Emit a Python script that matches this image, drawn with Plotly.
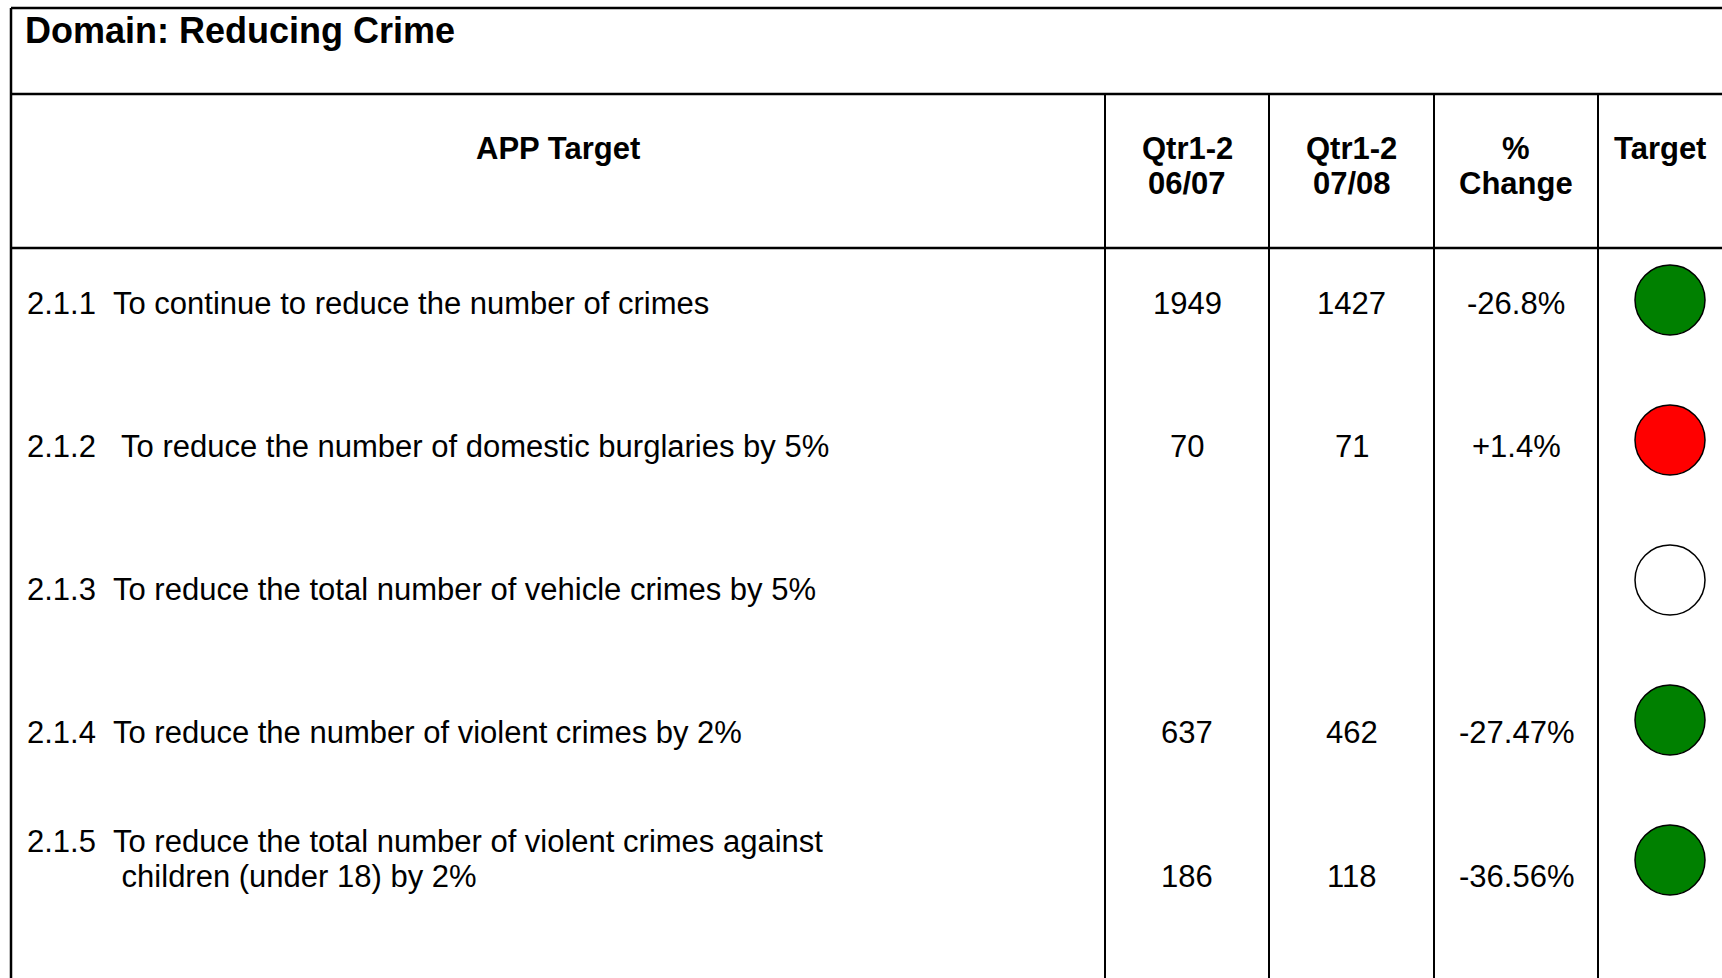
import plotly.graph_objects as go

# table content
title = "Domain: Reducing Crime"
headers = ["APP Target", "Qtr1-2<br>06/07", "Qtr1-2<br>07/08", "%<br>Change", "Target"]
codes = ["2.1.1", "2.1.2", "2.1.3", "2.1.4", "2.1.5"]
targets = [
    "To continue to reduce the number of crimes",
    " To reduce the number of domestic burglaries by 5%",
    "To reduce the total number of vehicle crimes by 5%",
    "To reduce the number of violent crimes by 2%",
    "To reduce the total number of violent crimes against<br> children (under 18) by 2%",
]
qtr_0607 = [1949, 70, None, 637, 186]
qtr_0708 = [1427, 71, None, 462, 118]
pct_change = ["-26.8%", "+1.4%", "", "-27.47%", "-36.56%"]
status = ["green", "red", "none", "green", "green"]

status_colors = {"green": "#008000", "red": "#FF0000", "none": "#FFFFFF"}

# page geometry (pixels)
W, H = 1722, 978
X_LEFT, Y_TOP = 11, 8
Y_TITLE_SEP, Y_HEAD_SEP = 94, 248
COL_EDGES = [X_LEFT, 1105, 1269, 1434, 1598, W]
ROW_Y0, ROW_STEP = 303, 143.3
LINE_H = 35
HEAD_Y = 148
CODE_X, DESC_X = 25, 111
STATUS_X, STATUS_Y0, STATUS_STEP = 1670, 300, 140

FONT = "Liberation Sans, Arial, sans-serif"

col_mid = [(COL_EDGES[i] + COL_EDGES[i + 1]) / 2 for i in range(len(COL_EDGES) - 1)]

fig = go.Figure()
annos = []
shapes = []

def hline(y, x0, x1, w=2.5):
    shapes.append(dict(type="line", x0=x0, x1=x1, y0=y, y1=y, xref="x", yref="y",
                       line=dict(color="black", width=w)))

def vline(x, y0, y1, w=2):
    shapes.append(dict(type="line", x0=x, x1=x, y0=y0, y1=y1, xref="x", yref="y",
                       line=dict(color="black", width=w)))

def txt(x, y, s, size=31, bold=False, anchor="center"):
    annos.append(dict(x=x, y=y, xref="x", yref="y", text=f"<b>{s}</b>" if bold else s,
                      showarrow=False, xanchor=anchor, yanchor="middle",
                      font=dict(family=FONT, size=size, color="black")))

# grid
hline(Y_TOP, X_LEFT, W)
hline(Y_TITLE_SEP, X_LEFT, W)
hline(Y_HEAD_SEP, X_LEFT, W)
vline(X_LEFT, Y_TOP, H, w=2.5)
for x in COL_EDGES[1:-1]:
    vline(x, Y_TITLE_SEP, H)

# title + headers
txt(23, 30, title, size=36, bold=True, anchor="left")
for cx, h in zip(col_mid, headers):
    for k, part in enumerate(h.split("<br>")):
        txt(cx, HEAD_Y + k * LINE_H, part, size=31, bold=True)

# rows
for i, (code, desc) in enumerate(zip(codes, targets)):
    row_y = ROW_Y0 + i * ROW_STEP
    lines = desc.split("<br>")
    top_y = row_y - (len(lines) - 1) * LINE_H
    txt(CODE_X, top_y, code, anchor="left")
    for k, part in enumerate(lines):
        txt(DESC_X, top_y + k * LINE_H, part, anchor="left")
    vals = [qtr_0607[i], qtr_0708[i], pct_change[i]]
    for cx, v in zip(col_mid[1:4], vals):
        if v not in (None, ""):
            txt(cx, row_y, str(v))

# target status circles
fig.add_trace(go.Scatter(
    x=[STATUS_X] * len(status),
    y=[STATUS_Y0 + i * STATUS_STEP for i in range(len(status))],
    mode="markers",
    marker=dict(size=70, color=[status_colors[s] for s in status],
                line=dict(color="black", width=1.5)),
    hoverinfo="skip", showlegend=False,
))

fig.update_layout(
    width=W, height=H,
    margin=dict(l=0, r=0, t=0, b=0),
    paper_bgcolor="white", plot_bgcolor="white",
    xaxis=dict(range=[0, W], visible=False, fixedrange=True),
    yaxis=dict(range=[H, 0], visible=False, fixedrange=True),
    shapes=shapes, annotations=annos,
    showlegend=False,
)
# drop the default page margin so the figure fills the window exactly
fig.write_html("out.html", config={"displayModeBar": False},
               post_script="document.body.style.margin='0';document.body.style.overflow='hidden';")
